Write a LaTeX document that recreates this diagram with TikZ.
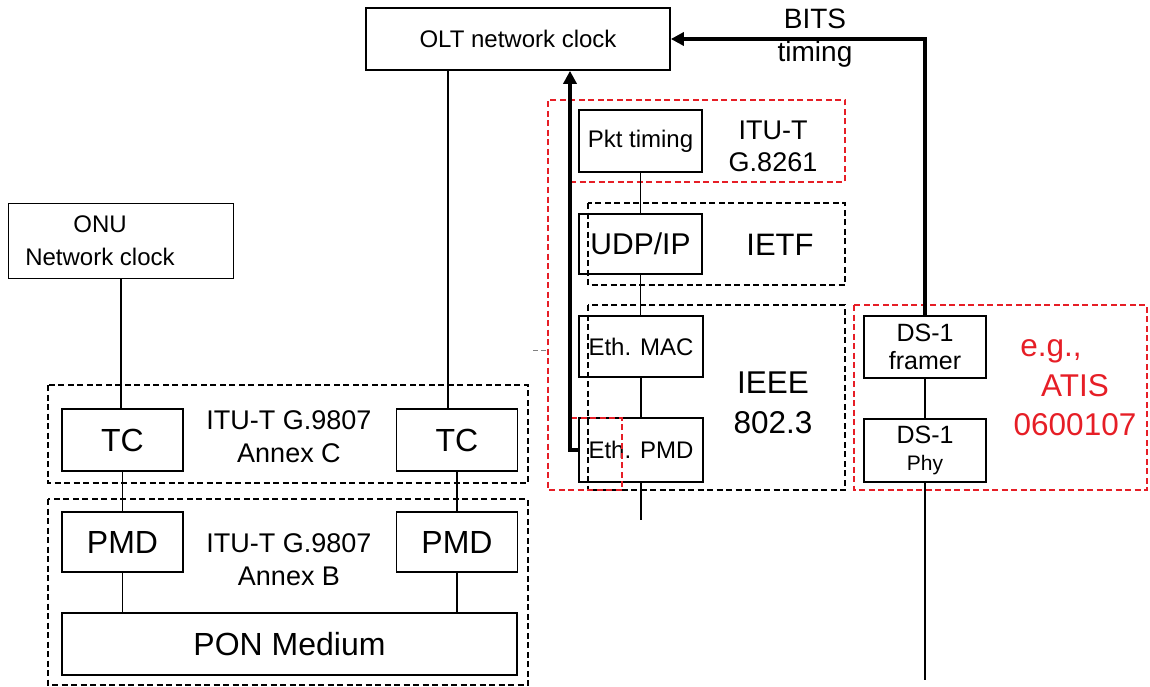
\documentclass[tikz,border=0pt]{standalone}
\usepackage{fontspec}
\setmainfont{Liberation Sans}
\usetikzlibrary{arrows.meta}
\definecolor{atisred}{RGB}{230,30,38}
\newcommand{\fs}[2]{\fontsize{#1pt}{#2pt}\selectfont}

\begin{document}
\begin{tikzpicture}[x=1pt, y=-1pt, >={Triangle[length=13pt,width=13pt]},
    box/.style={draw, line width=1.7pt, inner sep=0pt},
    grp/.style={draw, line width=1.6pt, dash pattern=on 6pt off 3.5pt},
    timing/.style={line width=4.5pt, ->},
    wire/.style={line width=1.5pt}]
  \useasboundingbox (0,0) rectangle (1150,687);

  % clocks
  \node[box, minimum width=304pt, minimum height=62pt, font=\fs{24}{29}] (olt) at (518,39) {OLT network clock};
  \node[box, minimum width=225pt, minimum height=75pt] (onu) at (121,241) {};
  \node[align=center, font=\fs{24}{33}] (onutxt) at (100,241) {ONU\\Network clock};
  \node[align=center, font=\fs{28}{33}] (bits) at (815,38) {BITS\\timing};

  % PON side
  \node[box, minimum width=121pt, minimum height=62pt, font=\fs{32}{38}] (tcL) at (122.5,440) {TC};
  \node[box, minimum width=121pt, minimum height=62pt, font=\fs{32}{38}] (tcR) at (457,440) {TC};
  \node[box, minimum width=121pt, minimum height=60pt, font=\fs{32}{38}] (pmdL) at (122.5,542) {PMD};
  \node[box, minimum width=121pt, minimum height=60pt, font=\fs{32}{38}] (pmdR) at (457,542) {PMD};
  \node[box, minimum width=455pt, minimum height=62pt, font=\fs{32}{38}] (pon) at (289.5,644) {PON Medium};
  \node[align=center, font=\fs{27}{33}] (annexc) at (289,437) {ITU-T G.9807\\Annex C};
  \node[align=center, font=\fs{27}{33}] (annexb) at (289,560) {ITU-T G.9807\\Annex B};
  \draw[grp] (48,385) rectangle (528,483);
  \draw[grp] (48,499) rectangle (528,685);

  % packet timing stack
  \node[box, minimum width=123pt, minimum height=62pt, font=\fs{24}{29}] (pkt) at (640.5,141) {Pkt timing};
  \node[box, minimum width=123pt, minimum height=60pt, font=\fs{30}{36}] (udp) at (640.5,244) {UDP/IP};
  \node[box, minimum width=124pt, minimum height=61pt, font=\fs{24}{29}] (mac) at (641,346.5) {Eth. MAC};
  \node[box, minimum width=124pt, minimum height=64pt, font=\fs{24}{29}] (ethpmd) at (641,450) {Eth. PMD};
  \node[align=center, font=\fs{27}{32}] (g8261) at (773,146) {ITU-T\\G.8261};
  \node[font=\fs{31}{37}] (ietf) at (780,245) {IETF};
  \node[align=center, font=\fs{31.5}{40}] (ieee) at (773,403) {IEEE\\802.3};
  \draw[grp] (588,203) rectangle (845,285);
  \draw[grp] (588,305) rectangle (845,490);
  \draw[grp, atisred] (570,182) -- (845,182) -- (845,100) -- (548,100) -- (548,490) -- (622,490) -- (622,418) -- (572,418);
  \draw[gray, line width=0.8pt, dash pattern=on 5pt off 3pt] (533,350) -- (547,350);

  % DS-1 stack
  \node[box, minimum width=122pt, minimum height=62pt, align=center, font=\fs{25}{28}] (ds1f) at (925,347) {DS-1\\framer};
  \node[box, minimum width=122pt, minimum height=63pt, align=center, font=\fs{25}{27}] (ds1p) at (925,450.5) {DS-1\\\fs{21}{27}Phy};
  \node[align=center, text=atisred, font=\fs{31.5}{39.5}] (atis) at (1075,388) {e.g.,\hspace*{48pt}\\ATIS\\0600107};
  \draw[grp, atisred] (854,305) rectangle (1147,490);

  % timing arrows
  \draw[timing] (ds1f.north) |- (olt.east);
  \draw[timing] (ethpmd.west) -| ([xshift=52pt]olt.south);

  % wires
  \draw[wire] (onu.south) -- (onu.south |- tcL.north);
  \draw[wire] ([xshift=-9pt]tcR.north) -- ([xshift=-9pt]tcR.north |- olt.south);
  \draw[wire] (tcL.south) -- (pmdL.north);
  \draw[wire] (pmdL.south) -- (pmdL.south |- pon.north);
  \draw[wire] (tcR.south) -- (pmdR.north);
  \draw[wire] (pmdR.south) -- (pmdR.south |- pon.north);
  \draw[wire] (pkt.south) -- (udp.north);
  \draw[wire] (udp.south) -- (udp.south |- mac.north);
  \draw[wire] (mac.south) -- (ethpmd.north);
  \coordinate (ethout) at (641,520);
  \draw[wire] (ethpmd.south) -- (ethout);
  \draw[wire] (ds1f.south) -- (ds1p.north);
  \coordinate (ds1out) at (925,680);
  \draw[wire] (ds1p.south) -- (ds1out);
\end{tikzpicture}
\end{document}
